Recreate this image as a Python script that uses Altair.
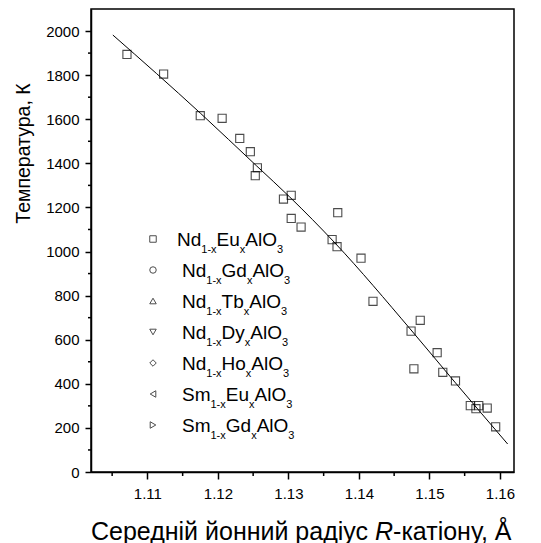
import re
import altair as alt
import pandas as pd

FONT = "Liberation Sans"

# Nd(1-x)Eu(x)AlO3: mean R-cation radius (Å) and transition temperature (K)
radius = [1.1071, 1.1123, 1.1175, 1.1206, 1.1231, 1.1246, 1.1256, 1.1253,
          1.1293, 1.1304, 1.1304, 1.1318, 1.1370, 1.1362, 1.1369, 1.1403,
          1.1420, 1.1487, 1.1474, 1.1511, 1.1478, 1.1519, 1.1537, 1.1558,
          1.1566, 1.1570, 1.1582, 1.1594]
temperature = [1894, 1805, 1616, 1604, 1513, 1453, 1380, 1344,
               1238, 1255, 1150, 1111, 1176, 1054, 1022, 970,
               774, 688, 639, 541, 468, 452, 413, 301,
               287, 301, 290, 205]

# fitted curve through the whole series
fit_radius = [1.1051, 1.1175, 1.1255, 1.1302, 1.1366, 1.1474, 1.1536, 1.1611]
fit_temperature = [1982, 1628, 1388, 1247, 1039, 644, 408, 127]

# legend entries: _{...} marks a subscript
legend_labels = [
    "Nd_{1-x}Eu_{x}AlO_{3}",
    "Nd_{1-x}Gd_{x}AlO_{3}",
    "Nd_{1-x}Tb_{x}AlO_{3}",
    "Nd_{1-x}Dy_{x}AlO_{3}",
    "Nd_{1-x}Ho_{x}AlO_{3}",
    "Sm_{1-x}Eu_{x}AlO_{3}",
    "Sm_{1-x}Gd_{x}AlO_{3}",
]
legend_shapes = ["square", "circle", "triangle-up", "triangle-down",
                 "diamond", "triangle-left", "triangle-right"]

x_ticks = [1.11, 1.12, 1.13, 1.14, 1.15, 1.16]
x_minor = [1.105, 1.115, 1.125, 1.135, 1.145, 1.155]
y_ticks = list(range(0, 2001, 200))
y_minor = list(range(100, 2001, 200))

x_title = ["Середній йонний радіус", "R", "-катіону, Å"]
y_title = "Температура, К"

# plot-area geometry (pixels)
W, H = 423, 463
PAD = {"left": 91, "top": 9, "right": 27, "bottom": 71}

# Arial / Liberation Sans advance widths (em) for legend text layout
ADV = {"N": .722, "d": .556, "E": .667, "u": .556, "A": .667, "l": .222,
       "O": .778, "S": .667, "m": .833, "G": .778, "T": .611, "b": .556,
       "D": .722, "y": .5, "H": .722, "o": .556, "1": .556, "-": .333,
       "x": .5, "3": .556}
MAIN_FS, SUB_FS = 19, 11
LEG_MARK_X = 62
LEG_TEXT_X = [86, 91, 91, 91, 91, 91, 91]
LEG_Y0, LEG_DY = 230, 31

pts = pd.DataFrame({"r": radius, "t": temperature})
fit = pd.DataFrame({"r": fit_radius, "t": fit_temperature})

seg_rows, mark_rows = [], []
for i, (label, shape) in enumerate(zip(legend_labels, legend_shapes)):
    cy = LEG_Y0 + i * LEG_DY
    mark_rows.append({"px": LEG_MARK_X, "py": cy, "shape": shape})
    x = LEG_TEXT_X[i]
    for j, part in enumerate(re.split(r"_\{([^}]*)\}", label)):
        if not part:
            continue
        sub = j % 2 == 1
        fs = SUB_FS if sub else MAIN_FS
        seg_rows.append({"seg": part, "px": x, "py": cy + (14 if sub else 6.5), "fs": fs})
        x += sum(ADV[c] for c in part) * fs
segs = pd.DataFrame(seg_rows)
marks = pd.DataFrame(mark_rows)

x_scale = alt.Scale(domain=[1.102, 1.162], nice=False, zero=False)
y_scale = alt.Scale(domain=[0, 2100], nice=False)

x_axis = alt.Axis(
    values=x_ticks, format=".2f", title=None, grid=False,
    tickSize=7, labelPadding=7, labelFlush=False, labelOverlap=False,
)
y_axis = alt.Axis(
    values=y_ticks, format="d", title=y_title, grid=False,
    tickSize=6, labelPadding=6, labelOverlap=False,
    titleX=-62, titleY=144, titleAngle=-90, titleBaseline="alphabetic",
    titleAlign="center", titleFontSize=19.5,
)

points = alt.Chart(pts).mark_point(
    shape="square", filled=False, color="black", strokeWidth=1.1, size=66
).encode(
    x=alt.X("r:Q", scale=x_scale, axis=x_axis),
    y=alt.Y("t:Q", scale=y_scale, axis=y_axis),
)

curve = alt.Chart(fit).mark_line(
    color="black", strokeWidth=1, interpolate="monotone"
).encode(x="r:Q", y="t:Q")

# minor ticks, drawn outward from the axis lines
x_minor_ticks = alt.Chart(pd.DataFrame({"r": x_minor})).mark_rule(
    color="black", strokeWidth=1.5
).encode(x="r:Q", y=alt.value(H), y2=alt.value(H + 4))
y_minor_ticks = alt.Chart(pd.DataFrame({"t": y_minor})).mark_rule(
    color="black", strokeWidth=1.5
).encode(y="t:Q", x=alt.value(0), x2=alt.value(-3))

legend_marks = alt.Chart(marks).mark_point(
    filled=False, color="black", strokeWidth=1, size=42
).encode(
    x=alt.X("px:Q", scale=None, axis=None),
    y=alt.Y("py:Q", scale=None, axis=None),
    shape=alt.Shape("shape:N", scale=None),
)

legend_text = alt.Chart(segs).mark_text(
    align="left", baseline="alphabetic", font=FONT, color="black"
).encode(
    x=alt.X("px:Q", scale=None, axis=None),
    y=alt.Y("py:Q", scale=None, axis=None),
    text="seg:N",
    size=alt.Size("fs:Q", scale=None),
)

# x-axis title with the italic R
TITLE_FS = 25
R_X, TITLE_Y = 284, 531
SPACE = 0.278 * TITLE_FS
xt_left = alt.Chart(pd.DataFrame({"s": [x_title[0]]})).mark_text(
    align="right", baseline="alphabetic", font=FONT, fontSize=TITLE_FS, color="black"
).encode(x=alt.value(R_X - SPACE), y=alt.value(TITLE_Y), text="s:N")
xt_r = alt.Chart(pd.DataFrame({"s": [x_title[1]]})).mark_text(
    align="left", baseline="alphabetic", font=FONT, fontSize=TITLE_FS,
    fontStyle="italic", color="black"
).encode(x=alt.value(R_X), y=alt.value(TITLE_Y), text="s:N")
xt_right = alt.Chart(pd.DataFrame({"s": [x_title[2]]})).mark_text(
    align="left", baseline="alphabetic", font=FONT, fontSize=TITLE_FS, color="black"
).encode(x=alt.value(R_X + 0.722 * TITLE_FS), y=alt.value(TITLE_Y), text="s:N")

chart = alt.layer(
    points, curve, x_minor_ticks, y_minor_ticks, legend_marks, legend_text,
    xt_left, xt_r, xt_right
).properties(
    width=W, height=H, padding=PAD, background="white",
    autosize=alt.AutoSizeParams(type="none"),
).configure_view(
    stroke="black", strokeWidth=1.5
).configure_axis(
    domainColor="black", domainWidth=1.5, tickColor="black", tickWidth=1.5,
    labelFont=FONT, labelFontSize=15, labelColor="black",
    titleFont=FONT, titleFontWeight="normal", titleColor="black",
)

chart.save("out.html", embed_options={"renderer": "svg", "actions": False})
